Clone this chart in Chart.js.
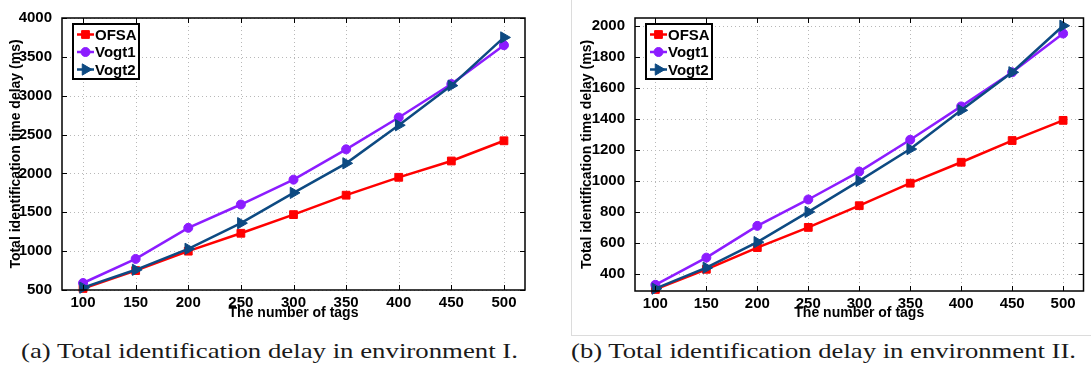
<!DOCTYPE html>
<html><head><meta charset="utf-8">
<script src="https://cdn.jsdelivr.net/npm/chart.js@4"></script>
<style>
body{margin:0;width:1091px;height:370px;background:#fff;position:relative;overflow:hidden}
canvas{position:absolute;top:0}
.cap{position:absolute;top:336px;font-family:"Liberation Serif","Times New Roman",serif;font-size:22px;white-space:nowrap;color:#1a1a1a;line-height:29px}
</style></head><body>
<div style="position:absolute;left:571px;top:0;width:1px;height:335px;background:#dcdcdc"></div>
<div style="position:absolute;left:571px;top:335px;width:520px;height:1px;background:#dcdcdc"></div>
<canvas id="a" width="545" height="330" style="left:0"></canvas>
<canvas id="b" width="545" height="330" style="left:546px"></canvas>
<div class="cap" id="capA">(a) Total identification delay in environment I.</div>
<div class="cap" id="capB">(b) Total identification delay in environment II.</div>
<script>
// ---- data ----
const tags = [100,150,200,250,300,350,400,450,500];
const seriesNames = ['OFSA','Vogt1','Vogt2'];
const envI_OFSA  = [520,750,1000,1230,1470,1720,1950,2160,2420];
const envI_Vogt1 = [590,900,1300,1600,1920,2310,2720,3150,3650];
const envI_Vogt2 = [530,760,1030,1360,1750,2130,2620,3130,3750];
const envII_OFSA  = [300,430,570,700,840,985,1120,1260,1390];
const envII_Vogt1 = [330,505,710,880,1060,1265,1480,1700,1950];
const envII_Vogt2 = [305,440,605,800,1000,1205,1455,1700,2000];
const xTickLabels = [100,150,200,250,300,350,400,450,500];
const yTicksI  = [500,1000,1500,2000,2500,3000,3500,4000];
const yTicksII = [400,600,800,1000,1200,1400,1600,1800,2000];
const xTitle = 'The number of tags';
const yTitle = 'Total identification time delay (ms)';

const colors = ['#ff0000','#8c1cff','#0d4a82'];
const styles = [
  {pointStyle:'rect', radius:5.5, rotation:0},
  {pointStyle:'circle', radius:4.5, rotation:0},
  {pointStyle:'triangle', radius:6.5, rotation:90}
];
const FONT = '"Liberation Sans", Arial, sans-serif';

function drawMarker(ctx, st, x, y, color){
  ctx.save();
  ctx.fillStyle = color; ctx.strokeStyle = color; ctx.lineWidth = 1; ctx.setLineDash([]);
  Chart.helpers.drawPoint(ctx, {pointStyle: st.pointStyle, radius: st.radius, rotation: st.rotation, borderWidth:1}, x, y);
  ctx.restore();
}

const deco = {
  id: 'deco',
  beforeDatasetsDraw(chart){
    const {ctx, chartArea:a, scales:{x, y}} = chart;
    ctx.save();
    ctx.strokeStyle = '#b8b8b8'; ctx.lineWidth = 1; ctx.setLineDash([1,3]);
    x.ticks.forEach(t => {
      const px = Math.round(x.getPixelForValue(t.value)) + 0.5;
      ctx.beginPath(); ctx.moveTo(px, a.top); ctx.lineTo(px, a.bottom); ctx.stroke();
    });
    y.ticks.forEach(t => {
      const py = Math.round(y.getPixelForValue(t.value)) + 0.5;
      ctx.beginPath(); ctx.moveTo(a.left, py); ctx.lineTo(a.right, py); ctx.stroke();
    });
    ctx.restore();
  },
  afterDatasetsDraw(chart){
    const {ctx, chartArea:a, scales:{x, y}} = chart;
    ctx.save();
    ctx.setLineDash([]);
    ctx.strokeStyle = '#000'; ctx.lineWidth = 1.5;
    ctx.strokeRect(a.left, a.top, a.right - a.left, a.bottom - a.top);
    ctx.lineWidth = 1;
    const L = 5;
    x.ticks.forEach(t => {
      const px = Math.round(x.getPixelForValue(t.value)) + 0.5;
      ctx.beginPath();
      ctx.moveTo(px, a.bottom); ctx.lineTo(px, a.bottom - L);
      ctx.moveTo(px, a.top); ctx.lineTo(px, a.top + L);
      ctx.stroke();
    });
    y.ticks.forEach(t => {
      const py = Math.round(y.getPixelForValue(t.value)) + 0.5;
      ctx.beginPath();
      ctx.moveTo(a.left, py); ctx.lineTo(a.left + L, py);
      ctx.moveTo(a.right, py); ctx.lineTo(a.right - L, py);
      ctx.stroke();
    });
    // legend
    const bx = a.left + 11, by = a.top + 6, bw = 66, bh = 55;
    ctx.fillStyle = '#fff';
    ctx.fillRect(bx, by, bw, bh);
    ctx.strokeStyle = '#000'; ctx.lineWidth = 2;
    ctx.strokeRect(bx, by, bw, bh);
    chart.data.datasets.forEach((ds, i) => {
      const ly = by + 10.5 + i * 17.5;
      ctx.strokeStyle = ds.borderColor; ctx.lineWidth = 2.5;
      ctx.beginPath(); ctx.moveTo(bx + 4, ly); ctx.lineTo(bx + 21, ly); ctx.stroke();
      drawMarker(ctx, styles[i], bx + 12.5, ly, ds.borderColor);
      ctx.fillStyle = '#000';
      ctx.font = 'bold 15px ' + FONT;
      ctx.textBaseline = 'middle'; ctx.textAlign = 'left';
      ctx.fillText(ds.label, bx + 22, ly + 1);
    });
    ctx.restore();
  }
};

function makeChart(id, vals, yMin, yMax, yTicks, cfg){
  const datasets = vals.map((v, i) => ({
    label: seriesNames[i],
    data: tags.map((t, k) => ({x: t, y: v[k]})),
    showLine: true,
    borderColor: colors[i],
    backgroundColor: colors[i],
    pointBackgroundColor: colors[i],
    pointBorderColor: colors[i],
    borderWidth: 2.5,
    pointStyle: styles[i].pointStyle,
    pointRadius: styles[i].radius,
    pointRotation: styles[i].rotation,
    pointBorderWidth: 1,
    order: 2 - i,
    clip: false
  }));
  return new Chart(document.getElementById(id), {
    type: 'scatter',
    data: {datasets},
    options: {
      responsive: false, animation: false, devicePixelRatio: 1,
      layout: {padding: {top: 18, right: cfg.right, left: 0, bottom: 0}},
      plugins: {legend: {display: false}, tooltip: {enabled: false}},
      scales: {
        x: {
          type: 'linear', min: 80, max: 520,
          afterBuildTicks: s => { s.ticks = xTickLabels.map(v => ({value: v})); },
          afterFit: s => { s.height = cfg.xh; },
          grid: {display: false},
          border: {display: false},
          ticks: {color: '#000', font: {family: FONT, size: 15, weight: 'bold'}, padding: -4, maxRotation: 0, autoSkip: false, callback: v => String(v)},
          title: {display: true, text: xTitle, color: '#000', font: {family: FONT, size: 14, weight: 'bold'}, padding: {top: 0, bottom: 8}}
        },
        y: {
          type: 'linear', min: yMin, max: yMax,
          afterBuildTicks: s => { s.ticks = yTicks.map(v => ({value: v})); },
          afterFit: s => { s.width = cfg.yw; },
          grid: {display: false},
          border: {display: false},
          ticks: {color: '#000', font: {family: FONT, size: 15, weight: 'bold'}, padding: 2, autoSkip: false, callback: v => String(v)},
          title: {display: true, text: yTitle, color: '#000', font: {family: FONT, size: 14, weight: 'bold'}, padding: {top: cfg.tp, bottom: 0}}
        }
      }
    },
    plugins: [deco]
  });
}

makeChart('a', [envI_OFSA, envI_Vogt1, envI_Vogt2], 500, 4000, yTicksI, {right: 20, xh: 40, yw: 62, tp: 8});
makeChart('b', [envII_OFSA, envII_Vogt1, envII_Vogt2], 290, 2050, yTicksII, {right: 0, xh: 39, yw: 89, tp: 33});

// captions: fit to reference widths
function place(id, left, width){
  const el = document.getElementById(id);
  const w = el.getBoundingClientRect().width;
  el.style.left = left + 'px';
  el.style.transformOrigin = '0 0';
  el.style.transform = 'scaleX(' + (width / w) + ')';
}
place('capA', 21, 497);
place('capB', 571, 505);
</script>
</body></html>
